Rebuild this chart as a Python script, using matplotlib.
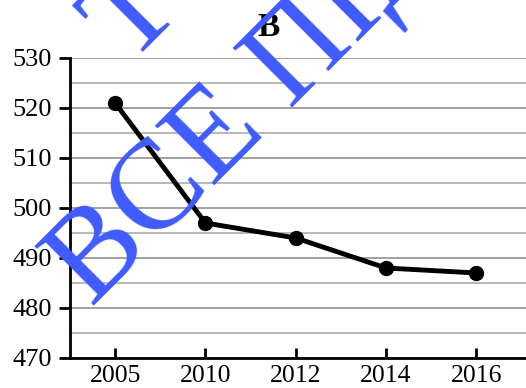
import matplotlib.pyplot as plt
from matplotlib.ticker import MultipleLocator
from matplotlib import font_manager as fm

years = ['2005', '2010', '2012', '2014', '2016']
values = [521, 497, 494, 488, 487]
title = 'В'
watermark = 'ВСЕ ПІДРУЧНИКИ'
fragment = 'Т'

plt.rcParams['font.family'] = 'Liberation Serif'
serif_path = fm.findfont(fm.FontProperties(family='Liberation Serif'))
serif_bold_path = fm.findfont(fm.FontProperties(family='Liberation Serif', weight='bold'))

fig = plt.figure(figsize=(5.26, 3.88), dpi=100)
ax = fig.add_axes([70/526, 30/388, 1 - 70/526, 300/388])

x = list(range(len(years)))
ax.plot(x, values, color='black', lw=3.5, marker='o', ms=10, zorder=3)

ax.set_xlim(-0.5, 4.55)
ax.set_ylim(470, 530)
ax.set_xticks(x)
ax.set_xticklabels(years)
ax.yaxis.set_major_locator(MultipleLocator(10))
ax.yaxis.set_minor_locator(MultipleLocator(5))
ax.grid(axis='y', which='major', color='#909090', lw=1.2)
ax.grid(axis='y', which='minor', color='#ababab', lw=1.2)
ax.set_axisbelow(True)

for s in ['top', 'right']:
    ax.spines[s].set_visible(False)
ax.spines['left'].set_linewidth(2)
ax.spines['bottom'].set_linewidth(2)
ax.tick_params(axis='y', which='major', direction='out', length=8, width=2, labelsize=19, pad=5)
ax.tick_params(axis='y', which='minor', length=0)
ax.tick_params(axis='x', direction='in', length=7, width=2, labelsize=18.5, pad=5)

fig.text(269/526, 1 - 27/388, title, ha='center', va='center',
         fontproperties=fm.FontProperties(fname=serif_bold_path, size=24))

wm_font = fm.FontProperties(fname=serif_path, size=92)
fig.text(92/526, 1 - 308/388, watermark, rotation=45, rotation_mode='anchor',
         ha='left', va='baseline', color='#3f5bff', zorder=5, fontproperties=wm_font)
fig.text(156/526, 1 - 36/388, fragment, rotation=45, rotation_mode='anchor',
         ha='center', va='baseline', color='#3f5bff', zorder=5, fontproperties=wm_font)

fig.savefig('out.png', dpi=100)
